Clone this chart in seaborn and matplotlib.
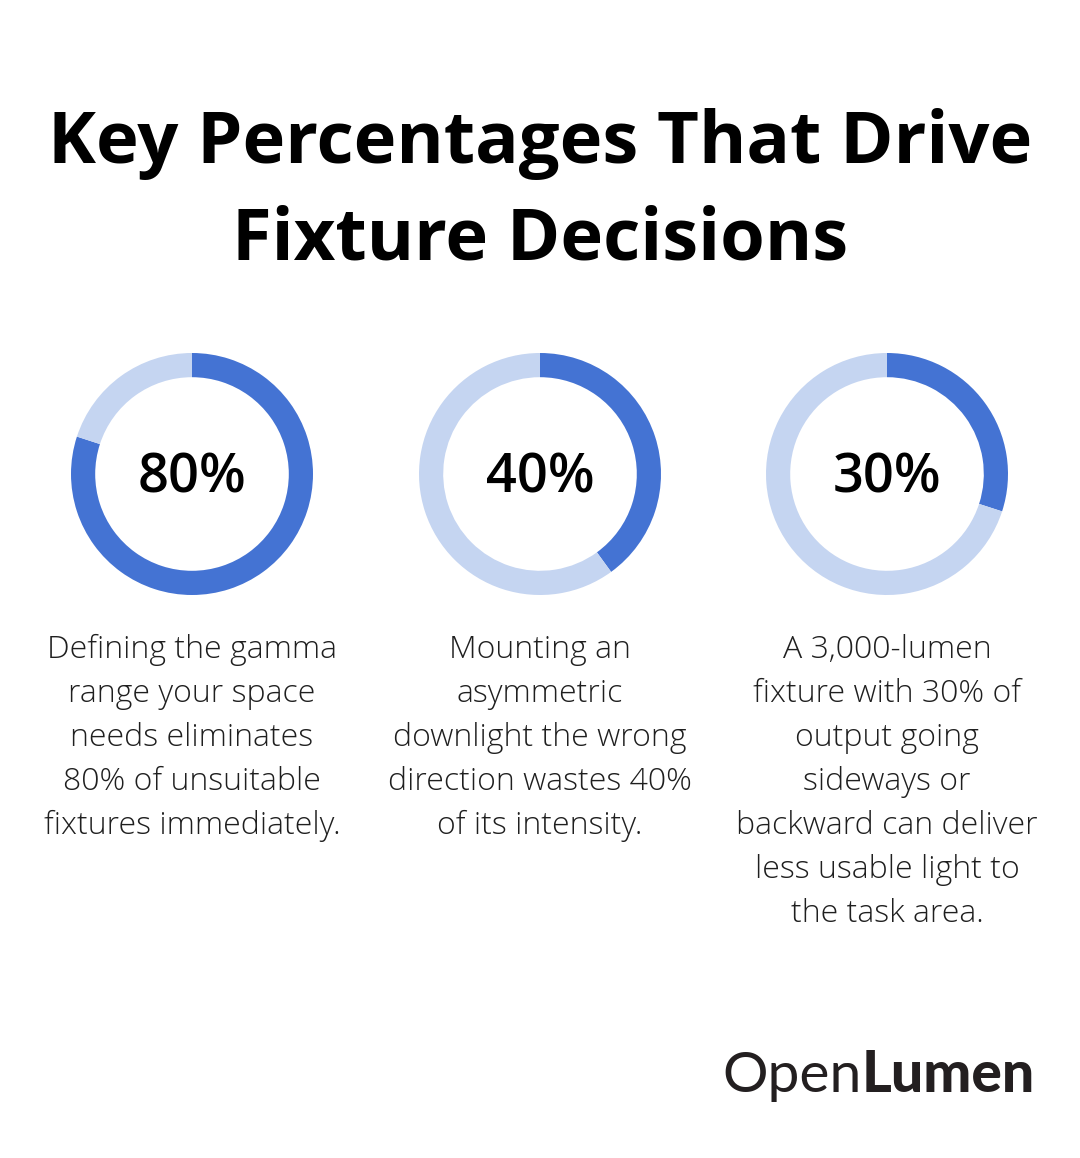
import seaborn as sns
import matplotlib.pyplot as plt

# data
percents = [80, 40, 30]
labels = ["80%", "40%", "30%"]
captions = [
    "Defining the gamma\nrange your space\nneeds eliminates\n80% of unsuitable\nfixtures immediately.",
    "Mounting an\nasymmetric\ndownlight the wrong\ndirection wastes 40%\nof its intensity.",
    "A 3,000-lumen\nfixture with 30% of\noutput going\nsideways or\nbackward can deliver\nless usable light to\nthe task area.",
]
title = "Key Percentages That Drive\nFixture Decisions"

sns.set_theme(style="white")
plt.rcParams["font.family"] = ["Open Sans", "DejaVu Sans"]

W, H = 1080, 1158
fig = plt.figure(figsize=(W / 100, H / 100), dpi=100)
fig.patch.set_facecolor("white")

dark = "#4473D3"
light = "#C5D5F1"

fig.text(0.5, 1 - 192 / H, title, ha="center", va="center", fontsize=52,
         fontweight="bold", color="black", linespacing=1.45)

centers = [192, 540, 887]
R = 121
for cx, p, lab, cap in zip(centers, percents, labels, captions):
    ax = fig.add_axes([(cx - R) / W, 1 - (474 + R) / H, 2 * R / W, 2 * R / H])
    ax.pie([p, 100 - p], colors=[dark, light], startangle=90, counterclock=False,
           wedgeprops=dict(width=0.2, edgecolor="none"), radius=1)
    ax.set_xlim(-1, 1)
    ax.set_ylim(-1, 1)
    ax.set_aspect("equal")
    ax.axis("off")
    ax.text(0, -0.04, lab, ha="center", va="center", fontsize=39,
            fontweight="semibold", color="black")
    fig.text(cx / W, 1 - 634 / H, cap, ha="center", va="top", fontsize=23,
             fontweight="light", color="#1f1f1f", linespacing=1.5)

logo_font = ["Lato", "DejaVu Sans"]
t1 = fig.text(722 / W, 1 - 1092 / H, "Open", ha="left", va="baseline",
              fontsize=41, fontweight="normal", color="#231f20", family=logo_font)
plt.annotate("Lumen", xy=(1, 0), xycoords=t1, xytext=(0, 0), textcoords="offset points",
             ha="left", va="bottom", fontsize=41, fontweight="black", color="#231f20",
             family=logo_font, annotation_clip=False)

fig.savefig("out.png", dpi=100, facecolor="white")
